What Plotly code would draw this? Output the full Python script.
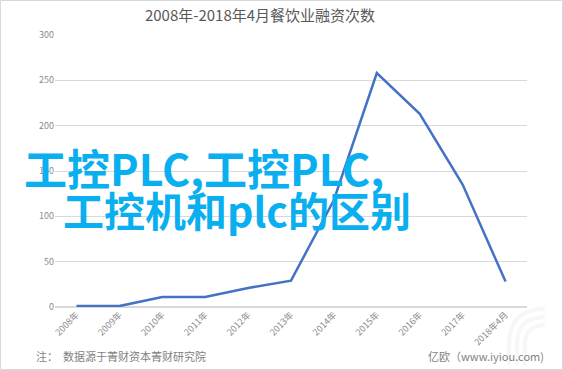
import plotly.graph_objects as go

categories = ["2008年", "2009年", "2010年", "2011年", "2012年", "2013年",
              "2014年", "2015年", "2016年", "2017年", "2018年4月"]
counts = [1, 1, 11, 11, 21, 29, 118, 258, 213, 135, 28]
y_ticks = [0, 50, 100, 150, 200, 250, 300]

W, H = 563, 370
L, R, T, B = 55, 36, 35, 63
PW, PH = W - L - R, H - T - B

def px(x):
    return (x - L) / PW

def py(y):
    return (H - B - y) / PH

fig = go.Figure()
fig.add_trace(go.Scatter(
    x=categories, y=counts, mode="lines",
    line=dict(color="#4472C4", width=2.5),
    hoverinfo="x+y", showlegend=False,
))

font_cjk = "Noto Sans CJK SC, Noto Sans, sans-serif"

fig.update_layout(
    width=W, height=H,
    margin=dict(l=L, r=R, t=T, b=B),
    paper_bgcolor="white", plot_bgcolor="white",
    font=dict(family=font_cjk, color="#8c8c8c", size=9),
    title=dict(text="2008年-2018年4月餐饮业融资次数", x=260 / W, xanchor="center",
               y=1 - 16 / H, yanchor="middle", yref="container",
               font=dict(size=15, color="#595959", family=font_cjk)),
    xaxis=dict(type="category", range=[-0.5, 10.5], showgrid=False,
               showline=False, zeroline=False, tickangle=-45, ticks="",
               tickfont=dict(size=9, color="#8c8c8c")),
    yaxis=dict(range=[0, 300], tickvals=y_ticks, showgrid=True, gridcolor="#d9d9d9",
               gridwidth=1, zeroline=True, zerolinecolor="#d9d9d9", showline=False,
               ticks="", ticklen=0, tickfont=dict(size=9, color="#8c8c8c")),
)

# Footer texts
fig.add_annotation(text="注：  数据源于菁财资本菁财研究院", xref="paper", yref="paper",
                   x=px(34), y=py(356), xanchor="left", yanchor="middle", showarrow=False,
                   font=dict(size=11, color="#7f7f7f", family=font_cjk))
fig.add_annotation(text="亿欧（www.iyiou.com)", xref="paper", yref="paper",
                   x=px(546), y=py(356), xanchor="right", yanchor="middle", showarrow=False,
                   font=dict(size=11, color="#7f7f7f", family=font_cjk))

# Overlay caption
fig.add_annotation(text="<b>工控PLC,工控PLC,</b>", xref="paper", yref="paper",
                   x=px(22), y=py(167), xanchor="left", yanchor="middle", showarrow=False,
                   font=dict(size=43, color="#0AAFEF", family=font_cjk))
fig.add_annotation(text="<b>工控机和plc的区别</b>", xref="paper", yref="paper",
                   x=px(61), y=py(209), xanchor="left", yanchor="middle", showarrow=False,
                   font=dict(size=41, color="#0AAFEF", family=font_cjk))

# Faint watermark arcs
for r in [20, 28, 36]:
    fig.add_shape(type="path", xref="paper", yref="paper",
                  path=f"M {px(545 - r)} {py(365)} L {px(545 - r)} {py(345)} "
                       f"Q {px(545 - r)} {py(345 - r)} {px(545)} {py(345 - r)}",
                  line=dict(color="#f7f7f7", width=4), layer="below")

# Outer border
fig.add_shape(type="rect", xref="paper", yref="paper",
              x0=px(0.5), x1=px(W - 0.5), y0=py(0.5), y1=py(H - 0.5),
              line=dict(color="#d9d9d9", width=1))

fig.write_html("out.html", config={"displayModeBar": False},
               post_script="document.body.style.margin='0';")
